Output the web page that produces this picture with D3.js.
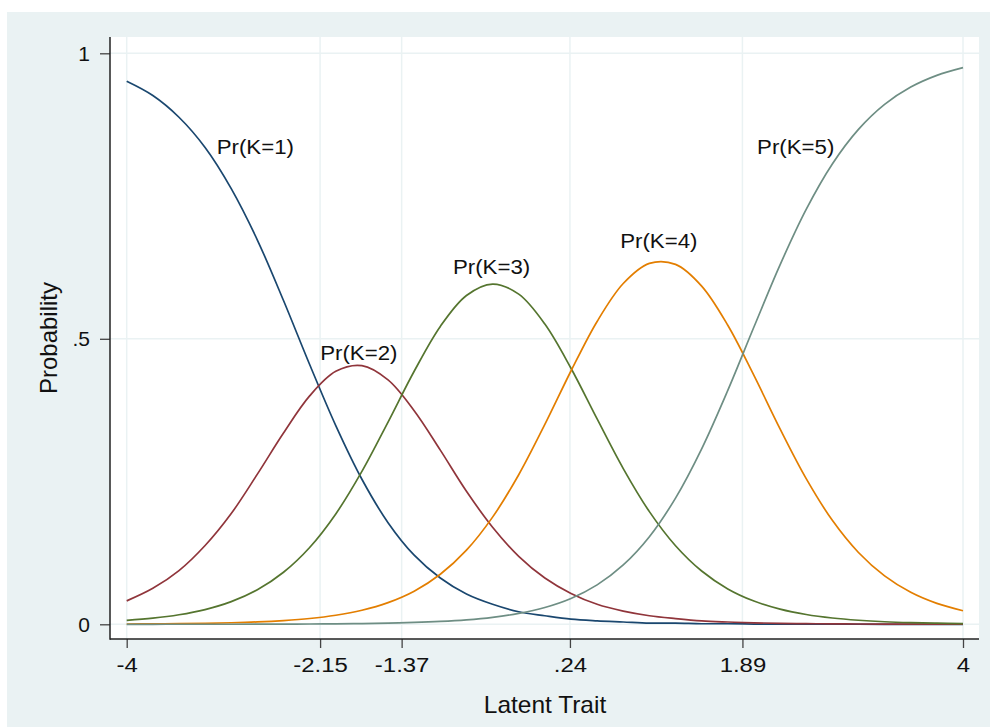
<!DOCTYPE html>
<html>
<head>
<meta charset="utf-8">
<script src="https://cdn.jsdelivr.net/npm/d3@7"></script>
<style>
  body { margin: 0; background: #fff; }
  text { font-family: "Liberation Sans", Arial, Helvetica, sans-serif; fill: #111; }
</style>
</head>
<body>
<svg id="chart" width="990" height="727"></svg>
<script>
// latent trait grid
var theta = [-4, -3.75, -3.5, -3.25, -3, -2.75, -2.5, -2.25, -2, -1.75, -1.5, -1.25, -1, -0.75, -0.5, -0.25,
  0, 0.25, 0.5, 0.75, 1, 1.25, 1.5, 1.75, 2, 2.25, 2.5, 2.75, 3, 3.25, 3.5, 3.75, 4];

// category probabilities
var pK1 = [0.951, 0.926, 0.888, 0.835, 0.763, 0.673, 0.567, 0.455, 0.348, 0.254, 0.178, 0.121, 0.081, 0.053, 0.035, 0.022,
  0.015, 0.009, 0.006, 0.004, 0.002, 0.002, 0.001, 0.001, 0.0004, 0.0003, 0.0002, 0.0001, 0.0001, 0, 0, 0, 0];
var pK2 = [0.041, 0.063, 0.094, 0.138, 0.194, 0.263, 0.335, 0.400, 0.443, 0.453, 0.428, 0.374, 0.305, 0.233, 0.170, 0.119,
  0.081, 0.054, 0.035, 0.023, 0.015, 0.010, 0.006, 0.004, 0.0025, 0.0017, 0.0011, 0.0007, 0.0005, 0.0003, 0.0002, 0.0001, 0.0001];
var pK3 = [0.0069, 0.0107, 0.0167, 0.0258, 0.0397, 0.0605, 0.0911, 0.1345, 0.1933, 0.2678, 0.3542, 0.4432, 0.5217, 0.5759, 0.5959, 0.5782,
  0.5258, 0.4484, 0.3596, 0.2727, 0.1973, 0.1376, 0.0933, 0.0620, 0.0407, 0.0265, 0.0171, 0.0110, 0.0071, 0.0045, 0.0029, 0.0019, 0.0012];
var pK4 = [0.0005, 0.0007, 0.0011, 0.0017, 0.0027, 0.0042, 0.0066, 0.0102, 0.0159, 0.0246, 0.0380, 0.0580, 0.0876, 0.1298, 0.1877, 0.2619,
  0.3500, 0.4436, 0.5304, 0.5968, 0.6321, 0.6304, 0.5923, 0.5237, 0.4358, 0.3422, 0.2551, 0.1821, 0.1258, 0.0847, 0.0560, 0.0366, 0.0238];
var pK5 = [0.0000, 0.0000, 0.0001, 0.0001, 0.0001, 0.0002, 0.0003, 0.0005, 0.0008, 0.0013, 0.0021, 0.0032, 0.0050, 0.0078, 0.0122, 0.0190,
  0.0294, 0.0452, 0.0690, 0.1039, 0.1534, 0.2210, 0.3073, 0.4097, 0.5206, 0.6295, 0.7266, 0.8061, 0.8667, 0.9105, 0.9409, 0.9614, 0.9750];

var xTicks = [-4, -2.15, -1.37, 0.24, 1.89, 4];
var xTickLabels = ["-4", "-2.15", "-1.37", ".24", "1.89", "4"];
var yTicks = [0, 0.5, 1];
var yTickLabels = ["0", ".5", "1"];
var curveNames = ["Pr(K=1)", "Pr(K=2)", "Pr(K=3)", "Pr(K=4)", "Pr(K=5)"];

var colors = ["#1a476f", "#90353b", "#55752f", "#e37e00", "#6e8e84"];
// where each curve label sits, in data units
var labelPos = [[-2.77, 0.824], [-1.78, 0.463], [-0.51, 0.614], [1.09, 0.659], [2.40, 0.824]];

var svg = d3.select("#chart");

// outer background and plot region
svg.append("rect").attr("x", 7).attr("y", 12).attr("width", 983).attr("height", 715).attr("fill", "#eaf2f3");
var plotL = 110, plotR = 979, plotT = 37, plotB = 639;
svg.append("rect").attr("x", plotL).attr("y", plotT).attr("width", plotR - plotL).attr("height", plotB - plotT).attr("fill", "#fff");

var x = d3.scaleLinear().domain([-4, 4]).range([126.7, 963]);
var y = d3.scaleLinear().domain([0, 1]).range([624.3, 53.3]);

// grid
svg.append("g").selectAll("line").data(yTicks).enter().append("line")
  .attr("x1", plotL).attr("x2", plotR)
  .attr("y1", function (d) { return y(d); }).attr("y2", function (d) { return y(d); })
  .attr("stroke", "#eaf2f3").attr("stroke-width", 1.5);
svg.append("g").selectAll("line").data(xTicks).enter().append("line")
  .attr("y1", plotT).attr("y2", plotB)
  .attr("x1", function (d) { return x(d); }).attr("x2", function (d) { return x(d); })
  .attr("stroke", "#eaf2f3").attr("stroke-width", 1.5);

// curves
var series = [pK1, pK2, pK3, pK4, pK5];
var line = d3.line()
  .x(function (d, i) { return x(theta[i]); })
  .y(function (d) { return y(d); })
  .curve(d3.curveCatmullRom.alpha(0.5));

svg.append("g").selectAll("path").data(series).enter().append("path")
  .attr("d", line)
  .attr("fill", "none")
  .attr("stroke", function (d, i) { return colors[i]; })
  .attr("stroke-width", 1.7);

// curve labels
svg.append("g").selectAll("text").data(curveNames).enter().append("text")
  .attr("transform", function (d, i) {
    return "translate(" + x(labelPos[i][0]) + "," + y(labelPos[i][1]) + ") scale(1.06,1)";
  })
  .attr("text-anchor", "middle")
  .style("font-size", "21px")
  .text(function (d) { return d; });

// axes
var xAxis = d3.axisBottom(x).tickValues(xTicks)
  .tickFormat(function (d, i) { return xTickLabels[i]; })
  .tickSize(9).tickPadding(9);
var gx = svg.append("g").attr("transform", "translate(0," + plotB + ")").call(xAxis);
gx.select(".domain").remove();
gx.selectAll(".tick line").attr("stroke", "#444").attr("stroke-width", 1.3);
gx.selectAll(".tick text").style("font-size", "21px").attr("fill", "#111")
  .attr("font-family", null).attr("transform", "scale(1.14,1)");

var yAxis = d3.axisLeft(y).tickValues(yTicks)
  .tickFormat(function (d, i) { return yTickLabels[i]; })
  .tickSize(10).tickPadding(10);
var gy = svg.append("g").attr("transform", "translate(" + plotL + ",0)").call(yAxis);
gy.select(".domain").remove();
gy.selectAll(".tick line").attr("stroke", "#444").attr("stroke-width", 1.3);
gy.selectAll(".tick text").style("font-size", "21px").attr("fill", "#111").attr("font-family", null);

svg.append("line").attr("x1", plotL).attr("x2", plotL).attr("y1", plotT).attr("y2", plotB + 0.7)
  .attr("stroke", "#222").attr("stroke-width", 1.5);
svg.append("line").attr("x1", plotL).attr("x2", plotR).attr("y1", plotB).attr("y2", plotB)
  .attr("stroke", "#222").attr("stroke-width", 1.5);

// titles
svg.append("text").attr("transform", "translate(545,713) scale(1.02,1)")
  .attr("text-anchor", "middle").style("font-size", "24px").text("Latent Trait");
svg.append("text").attr("transform", "translate(57,338) rotate(-90)")
  .attr("text-anchor", "middle").style("font-size", "24px").text("Probability");
</script>
</body>
</html>
